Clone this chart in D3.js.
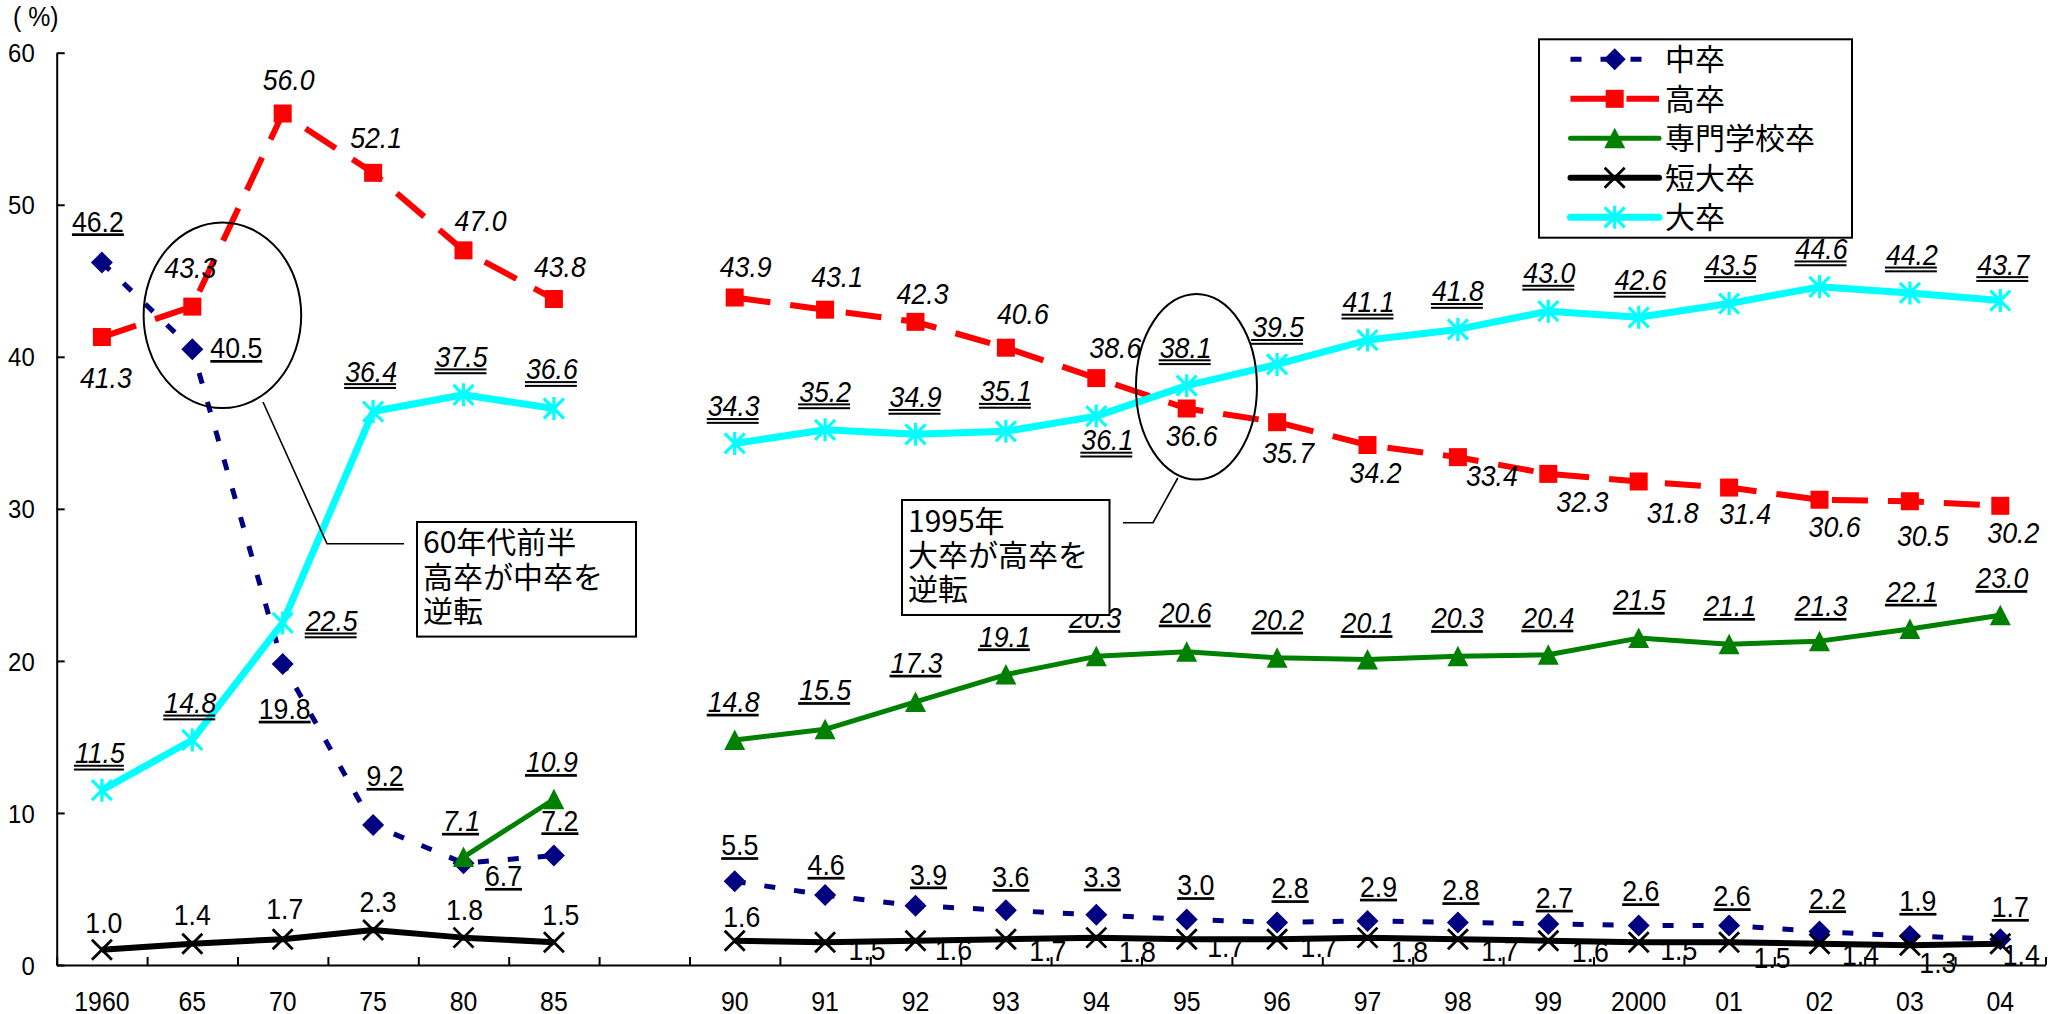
<!DOCTYPE html>
<html>
<head>
<meta charset="utf-8">
<script src="https://cdn.jsdelivr.net/npm/d3@7"></script>
<style>
  html, body { margin: 0; padding: 0; background: #fff; }
  svg { display: block; }
  .num { font-family: "Liberation Sans", Arial, sans-serif; }
  .jp { font-family: "Noto Sans CJK JP", sans-serif; }
</style>
</head>
<body>
<svg id="chart" width="2067" height="1014"></svg>
<script>
// ---- data -------------------------------------------------------------
// Categories along the x axis (blank slot separates the two periods)
const categories = ["1960","65","70","75","80","85","","90","91","92","93","94","95","96","97","98","99","2000","01","02","03","04"];

const chuSotsu  = [46.2,40.5,19.8,9.2,6.7,7.2,null,5.5,4.6,3.9,3.6,3.3,3.0,2.8,2.9,2.8,2.7,2.6,2.6,2.2,1.9,1.7];
const kouSotsu  = [41.3,43.3,56.0,52.1,47.0,43.8,null,43.9,43.1,42.3,40.6,38.6,36.6,35.7,34.2,33.4,32.3,31.8,31.4,30.6,30.5,30.2];
const senmon    = [null,null,null,null,7.1,10.9,null,14.8,15.5,17.3,19.1,20.3,20.6,20.2,20.1,20.3,20.4,21.5,21.1,21.3,22.1,23.0];
const tandai    = [1.0,1.4,1.7,2.3,1.8,1.5,null,1.6,1.5,1.6,1.7,1.8,1.7,1.7,1.8,1.7,1.6,1.5,1.5,1.4,1.3,1.4];
const daiSotsu  = [11.5,14.8,22.5,36.4,37.5,36.6,null,34.3,35.2,34.9,35.1,36.1,38.1,39.5,41.1,41.8,43.0,42.6,43.5,44.6,44.2,43.7];

const seriesNames = ["中卒","高卒","専門学校卒","短大卒","大卒"];
const yTicks = [0,10,20,30,40,50,60];
const unitLabel = "( %)";
const noteTexts = [["60年代前半","高卒が中卒を","逆転"], ["1995年","大卒が高卒を","逆転"]];

// ---- label nudges (dx, dy from the marker to the label's centre/baseline) ----
const nudgeChu = [[-4,-31],[44,9],[2,55],[12,-39],[40,23],[6,-25],null,[5,-26],[1,-20],[13,-21],[5,-23],[6,-28],[9,-24],[13,-24],[11,-24],[3,-22],[6,-16],[2,-24],[3,-19],[8,-23],[8,-25],[10,-22]];
const nudgeKou = [[4,51],[-2,-29],[6,-24],[3,-25],[17,-19],[6,-22],null,[11,-21],[12,-23],[7,-18],[17,-24],[19,-20],[5,38],[11,41],[8,38],[34,29],[34,38],[34,42],[16,36],[15,37],[13,45],[13,37]];
const nudgeSen = [null,null,null,null,[-2,-26],[-2,-27],null,[-1,-28],[0,-29],[1,-29],[-1,-28],[-1,-28],[-1,-29],[1,-28],[0,-26],[0,-28],[0,-27],[1,-28],[1,-28],[2,-25],[2,-27],[2,-27]];
const nudgeTan = [[2,-17],[0,-19],[2,-20],[5,-18],[1,-18],[7,-17],null,[7,-14],[42,18],[38,19],[42,22],[41,24],[39,18],[42,18],[42,24],[42,22],[42,21],[40,18],[43,26],[41,21],[28,28],[21,21]];
const nudgeDai = [[-2,-27],[-2,-27],[49,8],[-2,-30],[-2,-28],[-2,-29],null,[-1,-27],[0,-28],[0,-27],[0,-30],[11,34],[-1,-28],[1,-27],[1,-28],[0,-28],[1,-28],[2,-27],[2,-29],[2,-28],[2,-28],[3,-26]];

// ---- series styling ---------------------------------------------------
const series = [
  { name: seriesNames[0], values: chuSotsu, nudge: nudgeChu, color: "#000080", width: 5, dash: "11,19", marker: "diamond", italic: false, underline: 1 },
  { name: seriesNames[1], values: kouSotsu, nudge: nudgeKou, color: "#FF0000", width: 6, dash: "36,20", marker: "square",  italic: true,  underline: 0 },
  { name: seriesNames[2], values: senmon,   nudge: nudgeSen, color: "#008000", width: 5, dash: null,    marker: "triangle",italic: true,  underline: 1 },
  { name: seriesNames[3], values: tandai,   nudge: nudgeTan, color: "#000000", width: 6, dash: null,    marker: "cross",   italic: false, underline: 0 },
  { name: seriesNames[4], values: daiSotsu, nudge: nudgeDai, color: "#00FFFF", width: 7, dash: null,    marker: "star",    italic: true,  underline: 2 }
];

// ---- layout -----------------------------------------------------------
const plotLeft = 56.7, plotRight = 2045.5, plotTop = 52.7, plotBottom = 965;
const NUM_SX = 0.92;  // horizontal squeeze of numeric text

const svg = d3.select("#chart");

const x = d3.scaleBand().domain(d3.range(categories.length)).range([plotLeft, plotRight]).padding(0);
const xEdge = d3.scaleLinear().domain([0, categories.length]).range([plotLeft, plotRight]);
const y = d3.scaleLinear().domain([0, 60]).range([plotBottom, plotTop]);
const cx = i => x(i) + x.bandwidth() / 2;

// ---- axes -------------------------------------------------------------
const yAxisG = svg.append("g").attr("transform", `translate(${plotLeft},0)`)
  .call(d3.axisLeft(y).tickValues(yTicks).tickSize(-8).tickSizeOuter(0).tickFormat(d3.format("d")));
yAxisG.selectAll("path.domain, .tick line").attr("stroke", "#000").attr("stroke-width", 2);
yAxisG.selectAll(".tick text")
  .attr("class", "num").attr("x", null).attr("dy", "0.35em")
  .attr("transform", `translate(-22,0) scale(${NUM_SX},1)`)
  .attr("font-size", 26).attr("fill", "#000").attr("text-anchor", "end");

const xTickG = svg.append("g").attr("transform", `translate(0,${plotBottom})`)
  .call(d3.axisBottom(xEdge).tickValues(d3.range(0, categories.length + 1)).tickSize(-8).tickSizeOuter(0).tickFormat(""));
xTickG.selectAll("path.domain, .tick line").attr("stroke", "#000").attr("stroke-width", 2);

const xLabG = svg.append("g").attr("transform", `translate(0,${plotBottom})`)
  .call(d3.axisBottom(x).tickSize(0).tickFormat(i => categories[i]));
xLabG.select("path.domain").remove();
xLabG.selectAll(".tick text")
  .attr("class", "num").attr("y", null).attr("dy", null)
  .attr("transform", `translate(0,46) scale(${NUM_SX},1)`)
  .attr("font-size", 27).attr("fill", "#000");

svg.append("text").attr("class", "num")
  .attr("transform", `translate(13,26) scale(${NUM_SX},1)`)
  .attr("font-size", 27).text(unitLabel);

// ---- markers ----------------------------------------------------------
function drawMarker(g, kind, color) {
  if (kind === "diamond") {
    g.append("path").attr("d", "M0,-11L11,0L0,11L-11,0Z").attr("fill", color);
  } else if (kind === "square") {
    g.append("rect").attr("x", -9).attr("y", -9).attr("width", 18).attr("height", 18).attr("fill", color);
  } else if (kind === "triangle") {
    g.append("path").attr("d", "M0,-10.5L10.5,10L-10.5,10Z").attr("fill", color);
  } else if (kind === "cross") {
    g.append("path").attr("d", "M-10,-10L10,10M-10,10L10,-10").attr("stroke", color).attr("stroke-width", 2.8);
  } else if (kind === "star") {
    g.append("path").attr("d", "M-10,-10L10,10M-10,10L10,-10M0,-11.5L0,11.5").attr("stroke", color).attr("stroke-width", 3.2);
  }
}

// ---- lines & markers --------------------------------------------------
const line = d3.line()
  .defined(d => d.v != null)
  .x(d => cx(d.i))
  .y(d => y(d.v));

series.forEach(s => {
  const pts = s.values.map((v, i) => ({ i, v }));
  const g = svg.append("g");
  g.append("path").datum(pts).attr("d", line)
    .attr("fill", "none").attr("stroke", s.color).attr("stroke-width", s.width)
    .attr("stroke-linejoin", "round")
    .attr("stroke-dasharray", s.dash);
  g.selectAll("g.mk").data(pts.filter(d => d.v != null)).join("g")
    .attr("class", "mk")
    .attr("transform", d => `translate(${cx(d.i)},${y(d.v)})`)
    .each(function () { drawMarker(d3.select(this), s.marker, s.color); });
});

// ---- value labels -----------------------------------------------------
const labelG = svg.append("g");
series.forEach(s => {
  s.values.forEach((v, i) => {
    if (v == null) return;
    const [dx, dy] = s.nudge[i];
    const grp = labelG.append("g").attr("transform", `translate(${cx(i) + dx},${y(v) + dy})`);
    const t = grp.append("text").attr("class", "num")
      .attr("transform", `scale(${NUM_SX},1)`)
      .attr("text-anchor", "middle").attr("font-size", 29)
      .style("font-style", s.italic ? "italic" : "normal")
      .text(v.toFixed(1));
    const w = t.node().getComputedTextLength() * NUM_SX;
    const off = s.italic ? -1 : 0;
    if (s.underline === 1) {
      grp.append("rect").attr("x", -w / 2 + off).attr("y", 1.8).attr("width", w).attr("height", 2.7).attr("fill", "#000");
    } else if (s.underline === 2) {
      grp.append("rect").attr("x", -w / 2 + off).attr("y", 1.6).attr("width", w).attr("height", 2).attr("fill", "#000");
      grp.append("rect").attr("x", -w / 2 + off).attr("y", 5.4).attr("width", w).attr("height", 2).attr("fill", "#000");
    }
  });
});

// ---- annotations ------------------------------------------------------
const notes = [
  { ex: xEdge(1.833), ey: y(42.73), rx: 78.8, ry: 92.8,
    path: [[263,402],[327,543.8],[404,543.8]],
    box: [417,522,219,114.6], tx: 423, ty: [553,588,622], lines: noteTexts[0] },
  { ex: xEdge(12.608), ey: y(38.03), rx: 60.5, ry: 92.8,
    path: [[1177.8,478],[1153,522.7],[1123,522.7]],
    box: [902,500,207.5,115], tx: 908, ty: [532,566,600], lines: noteTexts[1] }
];
const noteG = svg.append("g");
notes.forEach(n => {
  noteG.append("ellipse").attr("cx", n.ex).attr("cy", n.ey).attr("rx", n.rx).attr("ry", n.ry)
    .attr("fill", "none").attr("stroke", "#000").attr("stroke-width", 2);
  noteG.append("path").attr("d", d3.line()(n.path)).attr("fill", "none").attr("stroke", "#000").attr("stroke-width", 1.6);
  noteG.append("rect").attr("x", n.box[0]).attr("y", n.box[1]).attr("width", n.box[2]).attr("height", n.box[3])
    .attr("fill", "#fff").attr("stroke", "#000").attr("stroke-width", 2);
  n.lines.forEach((txt, k) => {
    noteG.append("text").attr("class", "jp").attr("x", n.tx).attr("y", n.ty[k])
      .attr("font-size", 30).attr("fill", "#000").text(txt);
  });
});

// ---- legend -----------------------------------------------------------
const legend = svg.append("g");
legend.append("rect").attr("x", 1539).attr("y", 39.3).attr("width", 313).attr("height", 198.4)
  .attr("fill", "#fff").attr("stroke", "#000").attr("stroke-width", 2);
series.forEach((s, k) => {
  const ly = 59.3 + k * 39.5;
  legend.append("line").attr("x1", 1570.5).attr("x2", 1659).attr("y1", ly).attr("y2", ly)
    .attr("stroke", s.color).attr("stroke-width", s.width)
    .attr("stroke-dasharray", s.dash)
    .attr("stroke-linecap", s.dash ? "butt" : "round");
  drawMarker(legend.append("g").attr("transform", `translate(1614.7,${ly})`), s.marker, s.color);
  legend.append("text").attr("class", "jp").attr("x", 1665).attr("y", ly + 11)
    .attr("font-size", 30).attr("fill", "#000").text(s.name);
});
</script>
</body>
</html>
